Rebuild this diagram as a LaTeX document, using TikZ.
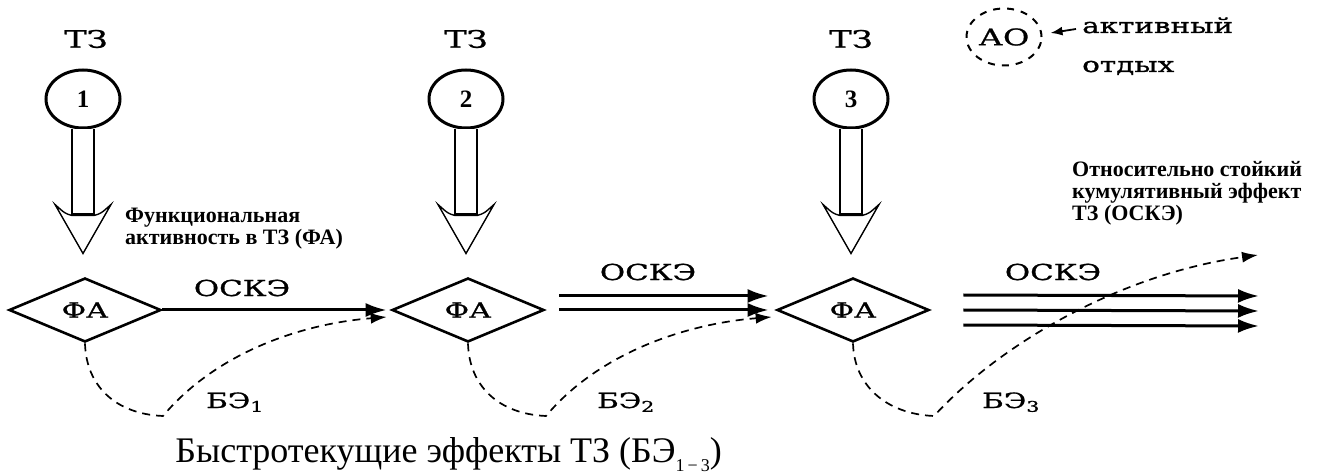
\documentclass[tikz,border=0pt]{standalone}
\usepackage{fontspec}
\setmainfont{Liberation Serif}
\newfontfamily\widefont[FakeStretch=1.4,FakeBold=1]{DejaVu Serif}
\usetikzlibrary{shapes.geometric,arrows.meta,positioning}

\begin{document}
\begin{tikzpicture}[x=1pt,y=1pt,
 stagecircle/.style={draw,ellipse,line width=3pt,minimum width=74pt,minimum height=58pt,inner sep=0pt,font=\fontsize{25}{25}\selectfont\bfseries},
 fabox/.style={draw,diamond,aspect=2.4,line width=2.6pt,minimum width=152pt,minimum height=64pt,inner sep=0pt,font=\widefont\fontsize{21}{21}\selectfont},
 tzlabel/.style={inner sep=0pt,font=\widefont\fontsize{24}{24}\selectfont},
 osklabel/.style={inner sep=0pt,font=\widefont\fontsize{22}{22}\selectfont},
 belabel/.style={inner sep=0pt,anchor=base west,font=\widefont\fontsize{21}{21}\selectfont},
 notelabel/.style={inner sep=0pt,anchor=north west,align=left,font=\fontsize{22}{22}\selectfont\bfseries},
 hollowarrow/.style={line width=2pt,fill=white},
 oskarrow/.style={line width=3pt,-{Latex[length=21pt,width=14pt]}},
 beline/.style={line width=1.7pt,dash pattern=on 8pt off 6pt,-{Latex[length=16pt,width=11pt]}}]
 \useasboundingbox (0,0) rectangle (1319,474);
 % stages
 \node[tzlabel] (tz1) at (86,435) {ТЗ};
 \node[tzlabel] (tz2) at (466,435) {ТЗ};
 \node[tzlabel] (tz3) at (851,435) {ТЗ};
 \node[stagecircle] (c1) at (83,375) {1};
 \node[stagecircle] (c2) at (466,375) {2};
 \node[stagecircle] (c3) at (851,375) {3};
 \node[fabox] (fa1) at (85,164) {ФА};
 \node[fabox] (fa2) at (468,164) {ФА};
 \node[fabox] (fa3) at (853,164) {ФА};
 % hollow arrows
 \begin{scope}[shift={(c1.south)}]
  \draw[hollowarrow] (-11,0) -- (-11,-85) -- (11,-85) -- (11,0);
  \draw[hollowarrow,line width=1.4pt] (-28,-75) .. controls (-18,-84) .. (-11,-86) -- (11,-86) .. controls (18,-84) .. (28,-75) -- (0,-124) -- cycle;
 \end{scope}
 \begin{scope}[shift={(c2.south)}]
  \draw[hollowarrow] (-11,0) -- (-11,-85) -- (11,-85) -- (11,0);
  \draw[hollowarrow,line width=1.4pt] (-28,-75) .. controls (-18,-84) .. (-11,-86) -- (11,-86) .. controls (18,-84) .. (28,-75) -- (0,-124) -- cycle;
 \end{scope}
 \begin{scope}[shift={(c3.south)}]
  \draw[hollowarrow] (-11,0) -- (-11,-85) -- (11,-85) -- (11,0);
  \draw[hollowarrow,line width=1.4pt] (-28,-75) .. controls (-18,-84) .. (-11,-86) -- (11,-86) .. controls (18,-84) .. (28,-75) -- (0,-124) -- cycle;
 \end{scope}
 % OSKE arrows
 \draw[oskarrow,shorten >=4pt] (fa1.east) -- (fa2.west);
 \node[osklabel] (osk1) at (242,186) {ОСКЭ};
 \draw[oskarrow] ([xshift=14pt,yshift=14pt]fa2.east) -- ([xshift=-7pt,yshift=14pt]fa3.west);
 \draw[oskarrow] ([xshift=14pt]fa2.east) -- ([xshift=-7pt]fa3.west);
 \node[osklabel] (osk2) at (648,202) {ОСКЭ};
 \coordinate (s3end) at (1259,163);
 \draw[oskarrow] ([xshift=33pt,yshift=15pt]fa3.east) -- ([yshift=15pt]s3end);
 \draw[oskarrow] ([xshift=33pt]fa3.east) -- (s3end);
 \draw[oskarrow] ([xshift=33pt,yshift=-15pt]fa3.east) -- ([yshift=-15pt]s3end);
 \node[osklabel] (osk3) at (1053,202) {ОСКЭ};
 % fast effects
 \coordinate (cusp1) at (163,58);
 \coordinate (cusp2) at (546,58);
 \coordinate (cusp3) at (934,58);
 \coordinate (be3end) at (1258,219);
 \draw[beline] (fa1.south) .. controls +(1,-42) and +(-48,2) .. (cusp1) .. controls +(52,62) and +(-88,-7) .. ([xshift=-4pt,yshift=-7pt]fa2.west);
 \draw[beline] (fa2.south) .. controls +(1,-42) and +(-48,2) .. (cusp2) .. controls +(52,62) and +(-88,-7) .. ([xshift=-4pt,yshift=-7pt]fa3.west);
 \draw[beline] (fa3.south) .. controls +(1,-42) and +(-48,2) .. (cusp3) .. controls +(66,72) and +(-138,-19) .. (be3end);
 \node[belabel] (be1) at (206,66) {БЭ\textsubscript{1}};
 \node[belabel] (be2) at (597,66) {БЭ\textsubscript{2}};
 \node[belabel] (be3) at (982,66) {БЭ\textsubscript{3}};
 \node[anchor=base east,inner sep=0pt,font=\fontsize{36}{36}\selectfont] (bottom) at (722,12) {Быстротекущие эффекты ТЗ (БЭ\raisebox{-9pt}{\fontsize{18}{18}\selectfont 1\,−\,3})};
 % notes
 \node[notelabel] (fanote) at (125,266) {Функциональная\\активность в ТЗ (ФА)};
 \node[notelabel] (osknote) at (1072,313) {Относительно стойкий\\кумулятивный эффект\\ТЗ (ОСКЭ)};
 % legend
 \node[draw,ellipse,dashed,dash pattern=on 7pt off 7pt,line width=2pt,minimum width=75pt,minimum height=57pt,inner sep=0pt,font=\widefont\fontsize{23}{23}\selectfont] (ao) at (1004,437) {АО};
 \node[belabel] (rest1) at (1082,441) {активный};
 \node[belabel] (rest2) at (1082,402) {отдых};
 \draw[line width=1.8pt,-{Latex[length=12pt,width=9pt]}] ([xshift=-6pt,yshift=4pt]rest1.base west) -- ([xshift=8pt]ao.east |- rest1.base);
\end{tikzpicture}
\end{document}
